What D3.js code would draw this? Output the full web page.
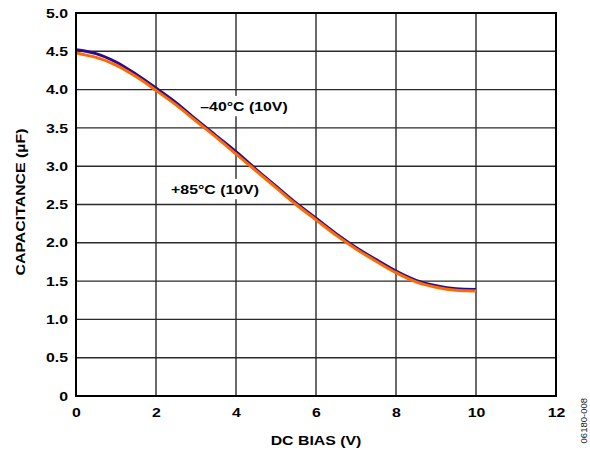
<!DOCTYPE html>
<html>
<head>
<meta charset="utf-8">
<script src="https://cdn.jsdelivr.net/npm/d3@7"></script>
<style>
  html, body { margin: 0; padding: 0; background: #fff; }
  svg { display: block; }
  text { font-family: "Liberation Sans", Arial, Helvetica, sans-serif; }
</style>
</head>
<body>
<svg id="chart" width="590" height="450"></svg>
<script>
// ---- data ----
const biasV = [0, 0.25, 0.5, 1.0, 1.5, 2.0, 2.5, 3.0, 3.5, 4.0, 4.5, 5.0, 5.5, 6.0, 6.5, 7.0, 7.5, 8.0, 8.5, 9.0, 9.5, 10.0];
const capMinus40 = [4.52, 4.50, 4.47, 4.36, 4.20, 4.02, 3.83, 3.61, 3.40, 3.19, 2.96, 2.74, 2.52, 2.32, 2.12, 1.94, 1.78, 1.63, 1.51, 1.44, 1.40, 1.39];
const capPlus85  = [4.48, 4.45, 4.42, 4.32, 4.17, 3.99, 3.80, 3.59, 3.38, 3.16, 2.94, 2.72, 2.50, 2.30, 2.10, 1.92, 1.76, 1.61, 1.49, 1.42, 1.38, 1.37];
const xTicks = [0, 2, 4, 6, 8, 10, 12];
const yTicks = [0, 0.5, 1.0, 1.5, 2.0, 2.5, 3.0, 3.5, 4.0, 4.5, 5.0];
const seriesNames = ["\u201340\u00B0C (10V)", "+85\u00B0C (10V)"];
const xTitle = "DC BIAS (V)";
const yTitle = "CAPACITANCE (\u00B5F)";
const figCode = "06180-008";

// ---- layout ----
const svg = d3.select("#chart");
const L = 76, R = 556, T = 13, B = 396;
const SX = 1.22; // horizontal stretch of the lettering
const x = d3.scaleLinear().domain([0, 12]).range([L, R]);
const y = d3.scaleLinear().domain([0, 5]).range([B, T]);

function stretchedText(parent, cx, cy, str, opts) {
  const o = Object.assign({ size: 13, weight: "bold", anchor: "middle", rotate: 0, fill: "#000", sx: SX }, opts || {});
  return parent.append("text")
    .attr("transform", `translate(${cx},${cy}) rotate(${o.rotate}) scale(${o.sx},1)`)
    .attr("dy", "0.35em").attr("text-anchor", o.anchor)
    .attr("font-size", o.size).attr("font-weight", o.weight).attr("fill", o.fill)
    .text(str);
}

// grid
const grid = svg.append("g");
grid.selectAll("line.v").data(xTicks.slice(1, -1)).enter().append("line")
  .attr("x1", d => x(d)).attr("x2", d => x(d)).attr("y1", T).attr("y2", B)
  .attr("stroke", "#2a2a2a").attr("stroke-width", 1.4);
grid.selectAll("line.h").data(yTicks.slice(1, -1)).enter().append("line")
  .attr("y1", d => y(d)).attr("y2", d => y(d)).attr("x1", L).attr("x2", R)
  .attr("stroke", "#2a2a2a").attr("stroke-width", 1.4);

// axes (labels only)
const xAxis = d3.axisBottom(x).tickValues(xTicks).tickSize(0).tickPadding(12)
  .tickFormat(d3.format("d"));
const yAxis = d3.axisLeft(y).tickValues(yTicks).tickSize(0).tickPadding(8)
  .tickFormat(d => d === 0 ? "0" : d3.format(".1f")(d));
const gx = svg.append("g").attr("transform", `translate(0,${B})`).call(xAxis);
const gy = svg.append("g").attr("transform", `translate(${L},0)`).call(yAxis);
[gx, gy].forEach(g => {
  g.select(".domain").remove();
  g.selectAll("text").attr("font-size", 13).attr("font-weight", "bold")
    .attr("fill", "#000").attr("font-family", "'Liberation Sans', Arial, sans-serif");
});
gx.selectAll("text").attr("transform", `scale(${SX},1)`);
gy.selectAll("text").attr("x", -8 / SX).attr("transform", `scale(${SX},1)`);

// series labels with white background (mask grid)
const labels = [
  { text: seriesNames[0], cx: 244, cy: 106 },
  { text: seriesNames[1], cx: 215, cy: 189 }
];
labels.forEach(l => {
  const t = stretchedText(svg, l.cx, l.cy, l.text);
  const bb = t.node().getBBox();
  const w = bb.width * SX;
  svg.insert("rect", () => t.node())
    .attr("x", l.cx - w / 2 - 2).attr("y", l.cy + bb.y - 3).attr("width", w + 4).attr("height", bb.height + 6)
    .attr("fill", "#fff");
});

// curves
const line = d3.line().x(d => x(d[0])).y(d => y(d[1])).curve(d3.curveMonotoneX);
svg.append("path").datum(biasV.map((v, i) => [v, capMinus40[i]]))
  .attr("d", line).attr("fill", "none").attr("stroke", "#2c0c8c").attr("stroke-width", 3);
svg.append("path").datum(biasV.map((v, i) => [v, capPlus85[i]]))
  .attr("d", line).attr("fill", "none").attr("stroke", "#ff6a00").attr("stroke-width", 3);

// frame
svg.append("rect").attr("x", L).attr("y", T).attr("width", R - L).attr("height", B - T)
  .attr("fill", "none").attr("stroke", "#000").attr("stroke-width", 2);

// titles
stretchedText(svg, x(6), 440, xTitle);
stretchedText(svg, 20, 202, yTitle, { rotate: -90 });
stretchedText(svg, 584, 398, figCode, { rotate: -90, size: 9.5, weight: "normal", anchor: "end", fill: "#222", sx: 1.0 });
</script>
</body>
</html>
